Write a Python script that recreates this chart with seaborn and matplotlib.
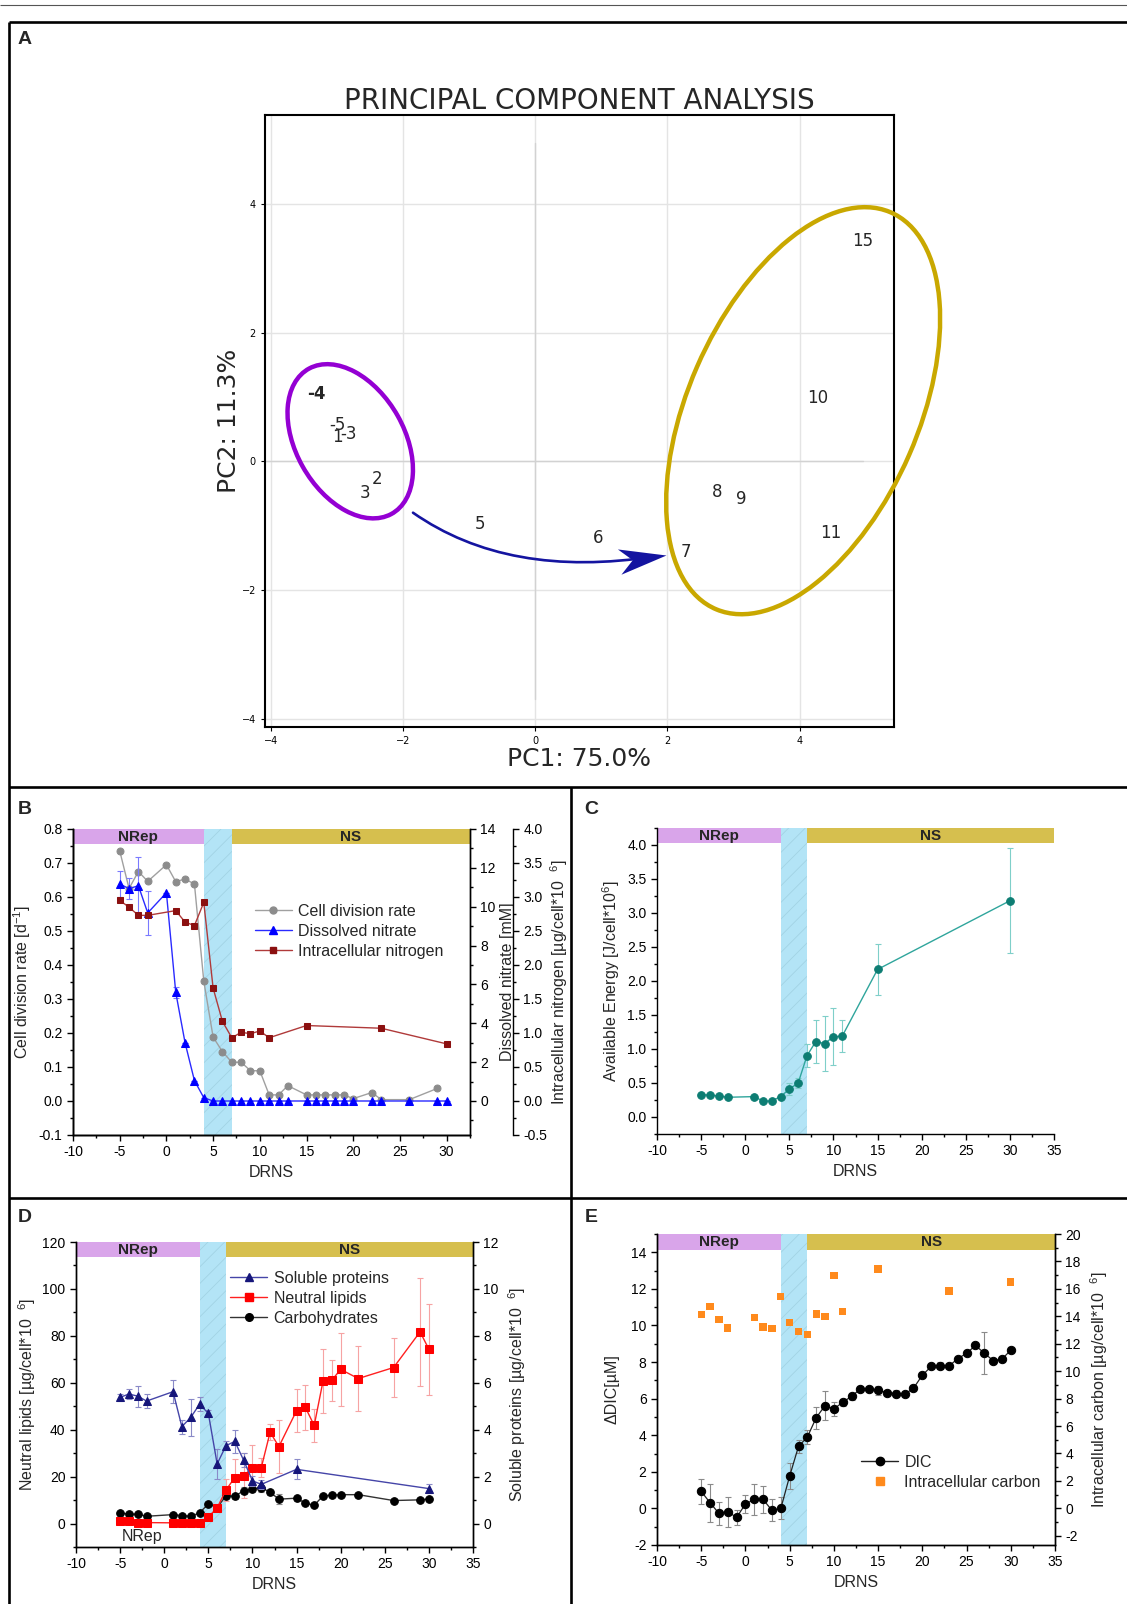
import matplotlib
matplotlib.use("Agg")
import matplotlib.pyplot as plt
import matplotlib.ticker as mticker
from matplotlib.patches import Ellipse, FancyArrowPatch
from matplotlib.lines import Line2D
from matplotlib.path import Path
from matplotlib.transforms import Affine2D, blended_transform_factory
import seaborn as sns


# --------------------------------------------------
# Data
# --------------------------------------------------
# A: PCA scores, labelled by DRNS day
pca_labels = ["-5", "-4", "-3", "1", "2", "3", "5", "6", "7", "8", "9", "10", "11", "15"]
pc1 = [-2.99, -3.31, -2.82, -2.99, -2.40, -2.57, -0.83, 0.95, 2.28, 2.75, 3.12, 4.28, 4.48, 4.95]
pc2 = [0.57, 1.04, 0.43, 0.38, -0.28, -0.50, -0.98, -1.20, -1.41, -0.48, -0.59, 0.98, -1.12, 3.42]
pca_bold = ["-4"]

# B: growth and nitrogen
div_days = [-5, -4, -3, -2, 0, 1, 2, 3, 4, 5, 6, 7, 8, 9, 10, 11, 12, 13, 15, 16, 17, 18, 19, 20,
            22, 23, 26, 29]
div_rate = [0.736, 0.625, 0.675, 0.646, 0.695, 0.645, 0.653, 0.638, 0.353, 0.188, 0.145, 0.114,
            0.114, 0.089, 0.089, 0.018, 0.018, 0.045, 0.018, 0.018, 0.018, 0.018, 0.018, 0.007,
            0.025, 0.004, 0.004, 0.037]
nitrate_days = [-5, -4, -3, -2, 0, 1, 2, 3, 4, 5, 6, 7, 8, 9, 10, 11, 12, 13, 15, 16, 17, 18, 19,
                20, 22, 23, 26, 29, 30]
nitrate = [11.17, 10.93, 11.08, 9.68, 10.72, 5.59, 2.99, 1.05, 0.17, 0.0, 0.0, 0.0, 0.0, 0.0, 0.0,
           0.0, 0.0, 0.0, 0.0, 0.0, 0.0, 0.0, 0.0, 0.0, 0.0, 0.0, 0.0, 0.0, 0.0]
nitrate_err = [0.69, 0.55, 1.49, 1.15, 0.0, 0.30, 0.0, 0.0, 0.0, 0.0, 0.0, 0.0, 0.0, 0.0, 0.0,
               0.0, 0.0, 0.0, 0.0, 0.0, 0.0, 0.0, 0.0, 0.0, 0.0, 0.0, 0.0, 0.0, 0.0]
nitrogen_days = [-5, -4, -3, -2, 1, 2, 3, 4, 5, 6, 7, 8, 9, 10, 11, 15, 23, 30]
nitrogen = [2.95, 2.85, 2.73, 2.73, 2.80, 2.63, 2.58, 2.92, 1.66, 1.17, 0.93, 1.01, 0.99, 1.03,
            0.93, 1.11, 1.07, 0.84]

# C: available energy
energy_days = [-5, -4, -3, -2, 1, 2, 3, 4, 5, 6, 7, 8, 9, 10, 11, 15, 30]
energy = [0.33, 0.32, 0.31, 0.29, 0.30, 0.235, 0.235, 0.30, 0.41, 0.50, 0.90, 1.11, 1.08, 1.18,
          1.19, 2.17, 3.18]
energy_err = [0.0, 0.0, 0.0, 0.0, 0.0, 0.0, 0.0, 0.02, 0.09, 0.08, 0.17, 0.31, 0.41, 0.42, 0.23,
              0.37, 0.77]

# D: cell composition
protein_days = [-5, -4, -3, -2, 1, 2, 3, 4, 5, 6, 7, 8, 9, 10, 11, 15, 30]
protein = [5.38, 5.52, 5.43, 5.22, 5.62, 4.13, 4.52, 5.08, 4.70, 2.54, 3.32, 3.50, 2.70, 1.82,
           1.67, 2.31, 1.49]
protein_err = [0.15, 0.20, 0.45, 0.30, 0.50, 0.30, 0.78, 0.30, 0.15, 0.65, 0.20, 0.50, 0.30, 0.20,
               0.20, 0.43, 0.20]
comp_days = [-5, -4, -3, -2, 1, 2, 3, 4, 5, 6, 7, 8, 9, 10, 11, 12, 13, 15, 16, 17, 18, 19, 20, 22,
             26, 29, 30]
lipids = [0.9, 0.9, 0.4, 0.4, 0.3, 0.3, 0.1, 0.3, 2.8, 6.7, 14.3, 19.6, 20.4, 23.8, 23.8, 38.9,
          32.8, 48.1, 49.5, 41.8, 60.7, 61.1, 65.7, 61.8, 66.5, 81.7, 74.3]
lipids_err = [0.5, 0.5, 0.5, 0.5, 0.5, 0.5, 0.5, 0.5, 1.0, 1.5, 4.5, 7.7, 9.6, 9.6, 4.0, 3.5, 11.3,
              9.2, 9.5, 7.2, 13.7, 8.7, 15.6, 13.7, 12.4, 22.9, 19.4]
carbs = [4.5, 4.0, 4.0, 3.1, 3.8, 3.4, 3.1, 4.5, 8.4, 6.7, 11.9, 11.6, 14.0, 14.8, 15.3, 13.3, 10.4,
         10.8, 8.7, 7.8, 11.8, 12.1, 12.3, 12.3, 9.8, 10.1, 10.5]
carbs_err = [0.8, 0.6, 0.6, 0.5, 0.6, 0.5, 0.5, 0.6, 0.8, 1.0, 1.2, 1.2, 1.5, 1.5, 2.0, 1.0, 2.0,
             1.0, 0.8, 0.8, 1.0, 0.8, 0.8, 0.8, 0.8, 0.8, 0.8]

# E: carbon
dic_days = [-5, -4, -3, -2, -1, 0, 1, 2, 3, 4, 5, 6, 7, 8, 9, 10, 11, 12, 13, 14, 15, 16, 17, 18,
            19, 20, 21, 22, 23, 24, 25, 26, 27, 28, 29, 30]
dic = [0.93, 0.31, -0.27, -0.18, -0.49, 0.24, 0.49, 0.49, -0.11, 0.0, 1.77, 3.39, 3.90, 4.96, 5.62,
       5.44, 5.80, 6.13, 6.53, 6.53, 6.46, 6.33, 6.28, 6.24, 6.57, 7.28, 7.76, 7.81, 7.77, 8.19,
       8.47, 8.91, 8.49, 8.08, 8.16, 8.65]
dic_err = [0.68, 1.05, 0.64, 0.82, 0.42, 0.48, 0.84, 0.76, 0.60, 0.60, 0.70, 0.36, 0.40, 0.60, 0.78,
           0.40, 0.20, 0.20, 0.10, 0.10, 0.25, 0.10, 0.20, 0.10, 0.15, 0.10, 0.10, 0.20, 0.10, 0.10,
           0.10, 0.10, 1.14, 0.10, 0.10, 0.10]
carbon_days = [-5, -4, -3, -2, 1, 2, 3, 4, 5, 6, 7, 8, 9, 10, 11, 15, 23, 30]
carbon = [14.14, 14.73, 13.78, 13.15, 13.92, 13.22, 13.12, 15.43, 13.54, 12.90, 12.69, 14.17,
          13.97, 16.96, 14.36, 17.45, 15.84, 16.50]

# phase boundaries (DRNS)
NREP_END = 4
NS_START = 7

# --------------------------------------------------
# Style
# --------------------------------------------------
NREP_COLOR = "#d9a5ea"
NS_COLOR = "#d6bf4e"
SHIFT_COLOR = "#b3e4f6"
HATCH_COLOR = "#a2d3e4"
ARROW_COLOR = "#1414a0"
TICK_SIZE = 10
LABEL_SIZE = 11.5
LEGEND_SIZE = 11.5

sns.set_theme(style="ticks")
plt.rcParams["font.family"] = ["Liberation Sans", "DejaVu Sans"]
plt.rcParams["mathtext.fontset"] = "custom"
plt.rcParams["mathtext.rm"] = "Liberation Sans"
plt.rcParams["mathtext.it"] = "Liberation Sans:italic"
plt.rcParams["mathtext.bf"] = "Liberation Sans:bold"
plt.rcParams["axes.unicode_minus"] = False
plt.rcParams["hatch.linewidth"] = 0.6
plt.rcParams["axes.edgecolor"] = "black"
plt.rcParams["axes.linewidth"] = 1.0

W, H = 1127, 1604
fig = plt.figure(figsize=(W / 100, H / 100), dpi=100)


def px_rect(left, top, right, bottom):
    return [left / W, 1 - bottom / H, (right - left) / W, (bottom - top) / H]


def fig_line(x0, y0, x1, y1, color="black", lw=1.9):
    fig.add_artist(Line2D([x0 / W, x1 / W], [1 - y0 / H, 1 - y1 / H],
                          transform=fig.transFigure, color=color, lw=lw,
                          solid_capstyle="butt"))


def add_phases(ax, band=0.05):
    x0, x1 = ax.get_xlim()
    trans = blended_transform_factory(ax.transData, ax.transAxes)
    ax.axvspan(x0, NREP_END, ymin=1 - band, ymax=1, color=NREP_COLOR, lw=0, zorder=1)
    ax.axvspan(NS_START, x1, ymin=1 - band, ymax=1, color=NS_COLOR, lw=0, zorder=1)
    ax.axvspan(NREP_END, NS_START, facecolor=SHIFT_COLOR, edgecolor=HATCH_COLOR,
               hatch="//", lw=0, zorder=1)
    ax.text((x0 + NREP_END) / 2, 1 - band / 2, "NRep", transform=trans, ha="center",
            va="center", fontsize=11, fontweight="bold", zorder=2)
    ax.text((NS_START + x1) / 2, 1 - band / 2, "NS", transform=trans, ha="center",
            va="center", fontsize=11, fontweight="bold", zorder=2)
    ax.set_xlim(x0, x1)


def set_ticks(ax, axis, major, minor):
    target = ax.xaxis if axis == "x" else ax.yaxis
    target.set_major_locator(mticker.MultipleLocator(major))
    target.set_minor_locator(mticker.MultipleLocator(minor))
    ax.tick_params(axis=axis, which="both", direction="out", width=1.0, labelsize=TICK_SIZE,
                   colors="black")
    ax.tick_params(axis=axis, which="major", length=4)
    ax.tick_params(axis=axis, which="minor", length=2.5)


def series(ax, x, y, color, marker, line_color=None, ms=5.5, lw=1.0):
    sns.lineplot(x=x, y=y, ax=ax, color=line_color or color, marker=marker, markersize=ms,
                 markerfacecolor=color, markeredgecolor=color, linewidth=lw,
                 errorbar=None, zorder=4)


def err(ax, x, y, e, color):
    ax.errorbar(x, y, yerr=e, fmt="none", ecolor=color, elinewidth=0.8, capsize=2.5,
                capthick=0.8, zorder=3)


def handle(color, marker, line_color=None, ms=5.5, ls="-"):
    return Line2D([], [], color=line_color or color, marker=marker, markersize=ms,
                  markerfacecolor=color, markeredgecolor=color, lw=1.0, linestyle=ls)


def legend(ax, handles, labels, anchor):
    ax.legend(handles, labels, loc="upper left", bbox_to_anchor=anchor, frameon=False,
              fontsize=LEGEND_SIZE, handlelength=2.3, handletextpad=0.4, labelspacing=0.3,
              borderpad=0, borderaxespad=0)


# --------------------------------------------------
# Panel A: PCA
# --------------------------------------------------
ax_a = fig.add_axes(px_rect(265, 115, 894, 727))
ax_a.set_xlim(-4.09, 5.43)
ax_a.set_ylim(-4.13, 5.38)
ax_a.set_xticks([-4, -2, 0, 2, 4])
ax_a.set_yticks([-4, -2, 0, 2, 4])
minus_fmt = mticker.FuncFormatter(lambda v, p: f"{v:.0f}".replace("-", "\u2212"))
ax_a.xaxis.set_major_formatter(minus_fmt)
ax_a.yaxis.set_major_formatter(minus_fmt)
ax_a.tick_params(labelsize=7, length=3, width=0.8, direction="out", colors="black")
for lab in ax_a.get_xticklabels() + ax_a.get_yticklabels():
    lab.set_family("DejaVu Sans")
ax_a.set_axisbelow(True)
ax_a.grid(True, color="#e4e4e4", lw=1.0)
ax_a.axhline(0, xmin=0.0, xmax=0.95, color="#d2d2d2", lw=1.0, zorder=1)
ax_a.axvline(0, ymin=0.045, ymax=0.955, color="#d2d2d2", lw=1.0, zorder=1)
for spine in ax_a.spines.values():
    spine.set_linewidth(1.5)

for lab, x, y in zip(pca_labels, pc1, pc2):
    ax_a.text(x, y, lab, ha="center", va="center", fontsize=12, family="DejaVu Sans",
              fontweight="bold" if lab in pca_bold else "normal", zorder=5)

ax_a.add_patch(Ellipse((-2.80, 0.31), 2.58, 1.64, angle=118.7, fill=False,
                       edgecolor="#9400d3", lw=3.2, clip_on=False, zorder=4))
ax_a.add_patch(Ellipse((4.055, 0.785), 6.71, 3.49, angle=67, fill=False,
                       edgecolor="#c9a800", lw=3.2, clip_on=False, zorder=4))

# trajectory arrow: curved shaft plus a swept-back head
ARROW_START = (-1.85, -0.80)
ARROW_END = (1.98, -1.45)
ax_a.add_patch(FancyArrowPatch(ARROW_START, ARROW_END,
                               connectionstyle="angle3,angleA=-35,angleB=10",
                               arrowstyle="-", color=ARROW_COLOR, lw=1.9,
                               shrinkA=0, shrinkB=8, zorder=4))
head = Path([(0, 0), (-1, 0.27), (-0.72, 0), (-1, -0.27), (0, 0)],
            [Path.MOVETO, Path.LINETO, Path.LINETO, Path.LINETO, Path.CLOSEPOLY])
head = head.transformed(Affine2D().rotate_deg(8))
ax_a.plot([ARROW_END[0]], [ARROW_END[1]], marker=head, markersize=70, color=ARROW_COLOR,
          markeredgewidth=0, linestyle="none", clip_on=False, zorder=5)

ax_a.set_title("PRINCIPAL COMPONENT ANALYSIS", family="DejaVu Sans", fontsize=20, pad=4)
fig.text(579 / W, 1 - 759 / H, "PC1: 75.0%", family="DejaVu Sans", fontsize=18,
         ha="center", va="center")
fig.text(229 / W, 1 - 421 / H, "PC2: 11.3%", family="DejaVu Sans", fontsize=18,
         ha="center", va="center", rotation=90)

# --------------------------------------------------
# Panel B: division rate, nitrate, intracellular N
# --------------------------------------------------
ax_b = fig.add_axes(px_rect(73, 829, 470, 1135))
ax_b2 = ax_b.twinx()
ax_b3 = ax_b.twinx()
ax_b3.spines["right"].set_position(("outward", 31))

series(ax_b, div_days, div_rate, "#8c8c8c", "o", line_color="#a0a0a0", ms=5)
err(ax_b2, nitrate_days, nitrate, nitrate_err, "#7a7aff")
series(ax_b2, nitrate_days, nitrate, "#0000ff", "^", line_color="#2a2aff", ms=6)
series(ax_b3, nitrogen_days, nitrogen, "#8b1010", "s", line_color="#b03a3a", ms=5)

ax_b.set_xlim(-10, 32.5)
ax_b.set_ylim(-0.1, 0.8)
ax_b2.set_ylim(-1.75, 14)
ax_b3.set_ylim(-0.5, 4.0)
set_ticks(ax_b, "x", 5, 2.5)
set_ticks(ax_b, "y", 0.1, 0.05)
set_ticks(ax_b2, "y", 2, 1)
set_ticks(ax_b3, "y", 0.5, 0.25)
add_phases(ax_b)

ax_b.set_xlabel("DRNS", fontsize=LABEL_SIZE)
ax_b.set_ylabel("Cell division rate [d$^{-1}$]", fontsize=LABEL_SIZE, labelpad=4)
ax_b2.set_ylabel("Dissolved nitrate [mM]", fontsize=LABEL_SIZE, labelpad=3)
ax_b3.set_ylabel("Intracellular nitrogen [µg/cell*10  $^{6}$]", fontsize=LABEL_SIZE,
                 labelpad=1)
for a in (ax_b, ax_b2, ax_b3):
    a.spines["top"].set_visible(False)
legend(ax_b3,
       [handle("#8c8c8c", "o", "#a0a0a0", ms=5),
        handle("#0000ff", "^", "#2a2aff", ms=6),
        handle("#8b1010", "s", "#b03a3a", ms=5)],
       ["Cell division rate", "Dissolved nitrate", "Intracellular nitrogen"],
       (0.458, 0.755))

# --------------------------------------------------
# Panel C: available energy
# --------------------------------------------------
ax_c = fig.add_axes(px_rect(657, 828, 1054, 1134))
err(ax_c, energy_days, energy, energy_err, "#7fcfc9")
series(ax_c, energy_days, energy, "#0d7d73", "o", line_color="#2fa59c", ms=5.5)
ax_c.set_xlim(-10, 35)
ax_c.set_ylim(-0.25, 4.25)
set_ticks(ax_c, "x", 5, 2.5)
set_ticks(ax_c, "y", 0.5, 0.25)
add_phases(ax_c)
sns.despine(ax=ax_c)
ax_c.set_xlabel("DRNS", fontsize=LABEL_SIZE)
ax_c.set_ylabel("Available Energy [J/cell*10$^{6}$]", fontsize=LABEL_SIZE, labelpad=4)

# --------------------------------------------------
# Panel D: lipids, proteins, carbohydrates
# --------------------------------------------------
ax_d = fig.add_axes(px_rect(76, 1242, 473, 1547))
ax_d2 = ax_d.twinx()
err(ax_d, comp_days, lipids, lipids_err, "#f6a3a3")
err(ax_d, comp_days, carbs, carbs_err, "#8a8a8a")
series(ax_d, comp_days, carbs, "black", "o", line_color="#333333", ms=5.5)
series(ax_d, comp_days, lipids, "#ff0000", "s", line_color="#ff2020", ms=5.5)
err(ax_d2, protein_days, protein, protein_err, "#8a8ac8")
series(ax_d2, protein_days, protein, "#16167a", "^", line_color="#4545a8", ms=6)

ax_d.set_xlim(-10, 35)
ax_d.set_ylim(-10, 120)
ax_d2.set_ylim(-1, 12)
set_ticks(ax_d, "x", 5, 2.5)
set_ticks(ax_d, "y", 20, 10)
set_ticks(ax_d2, "y", 2, 1)
add_phases(ax_d)
ax_d.text(-2.5, -5.5, "NRep", fontsize=11.5, ha="center", va="center")
for a in (ax_d, ax_d2):
    a.spines["top"].set_visible(False)
ax_d.set_xlabel("DRNS", fontsize=LABEL_SIZE)
ax_d.set_ylabel("Neutral lipids [µg/cell*10  $^{6}$]", fontsize=LABEL_SIZE, labelpad=3)
ax_d2.set_ylabel("Soluble proteins [µg/cell*10  $^{6}$]", fontsize=LABEL_SIZE, labelpad=5)
legend(ax_d2,
       [handle("#16167a", "^", "#4545a8", ms=6),
        handle("#ff0000", "s", "#ff2020"),
        handle("black", "o", "#333333")],
       ["Soluble proteins", "Neutral lipids", "Carbohydrates"],
       (0.389, 0.905))

# --------------------------------------------------
# Panel E: DIC and intracellular carbon
# --------------------------------------------------
ax_e = fig.add_axes(px_rect(657, 1234, 1055, 1545))
ax_e2 = ax_e.twinx()
err(ax_e, dic_days, dic, dic_err, "#8a8a8a")
series(ax_e, dic_days, dic, "black", "o", line_color="#222222", ms=6, lw=0.9)
sns.scatterplot(x=carbon_days, y=carbon, ax=ax_e2, marker="s", color="#ff8a1c",
                edgecolor="none", s=28, zorder=4)

ax_e.set_xlim(-10, 35)
ax_e.set_ylim(-2, 15)
ax_e2.set_ylim(-2.67, 20)
set_ticks(ax_e, "x", 5, 2.5)
set_ticks(ax_e, "y", 2, 1)
set_ticks(ax_e2, "y", 2, 1)
add_phases(ax_e)
for a in (ax_e, ax_e2):
    a.spines["top"].set_visible(False)
ax_e.set_xlabel("DRNS", fontsize=LABEL_SIZE)
ax_e.set_ylabel("ΔDIC[µM]", fontsize=LABEL_SIZE, labelpad=8)
ax_e2.set_ylabel("Intracellular carbon [µg/cell*10  $^{6}$]", fontsize=LABEL_SIZE, labelpad=5)
legend(ax_e2,
       [handle("black", "o", "#222222", ms=6), handle("#ff8a1c", "s", ls="none")],
       ["DIC", "Intracellular carbon"],
       (0.513, 0.29))

# --------------------------------------------------
# Panel frame and letters
# --------------------------------------------------
fig_line(0, 4.5, W, 4.5, color="#555555", lw=0.8)
fig_line(8.5, 22, W, 22)
fig_line(8.5, 22, 8.5, H)
fig_line(8.5, 787, W, 787)
fig_line(571, 787, 571, H)
fig_line(8.5, 1198, W, 1198)

for letter, x, y in [("A", 25, 40), ("B", 25, 809), ("C", 591, 809),
                     ("D", 25, 1218), ("E", 591, 1218)]:
    fig.text(x / W, 1 - y / H, letter, fontsize=14, fontweight="bold",
             ha="center", va="center")

fig.savefig("out.png", dpi=100)
